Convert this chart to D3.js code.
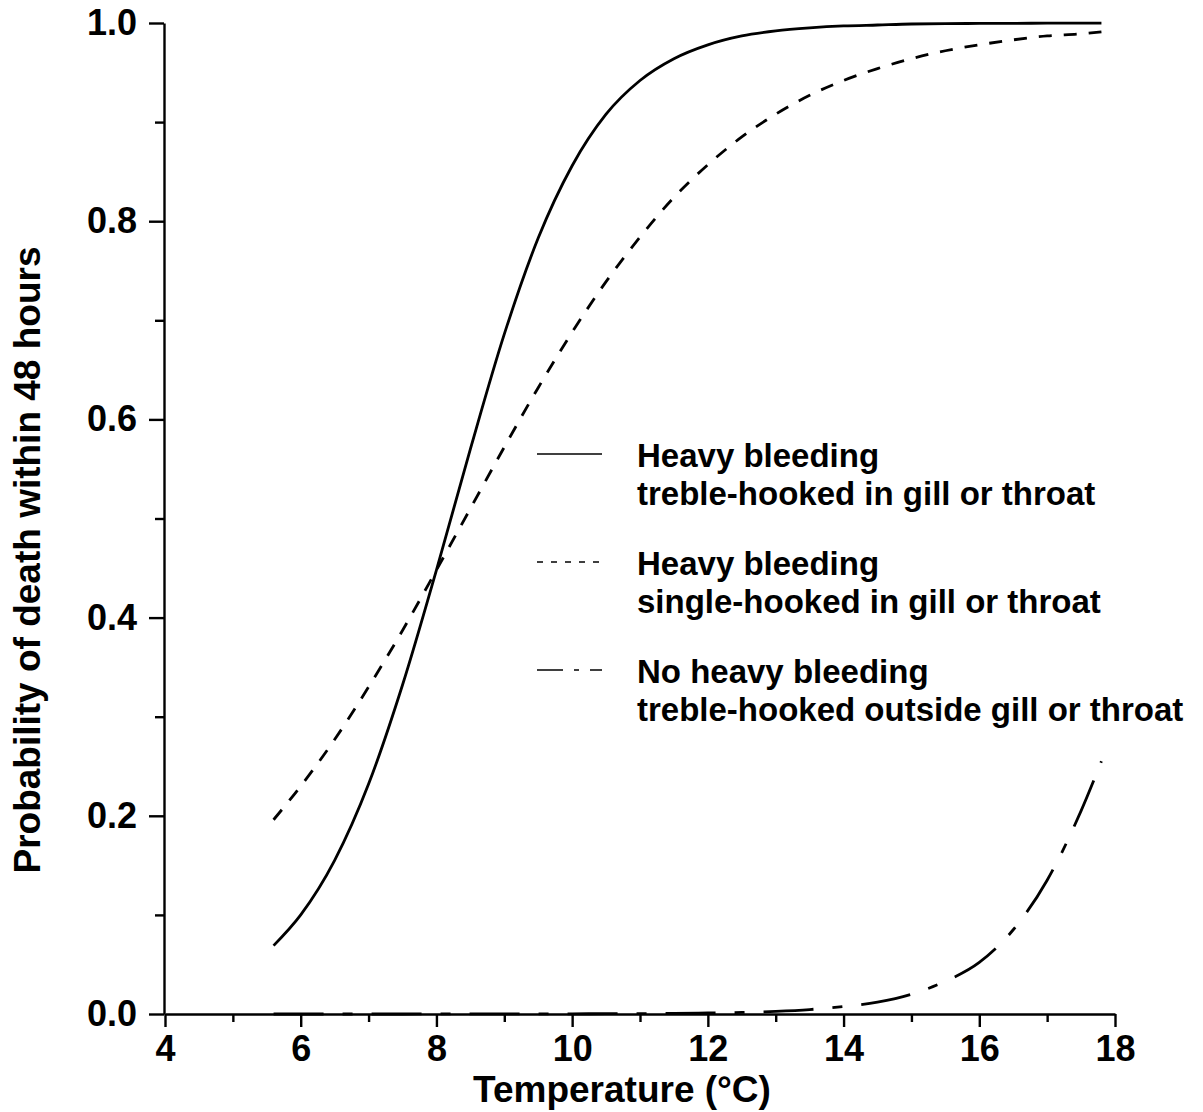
<!DOCTYPE html>
<html>
<head>
<meta charset="utf-8">
<script src="https://cdn.jsdelivr.net/npm/d3@7"></script>
<style>
  html, body { margin: 0; padding: 0; background: #fff; }
  svg text { font-family: "Liberation Sans", Arial, Helvetica, sans-serif; font-weight: bold; fill: #000; }
</style>
</head>
<body>
<svg id="chart" width="1203" height="1112"></svg>
<script>
// ---- Data ----
const temperature = [5.6, 6.0, 6.5, 7.0, 7.5, 8.0, 8.5, 9.0, 9.5, 10.0, 10.5, 11.0, 11.5, 12.0, 12.5, 13.0, 13.5, 14.0, 14.5, 15.0, 15.5, 16.0, 16.5, 17.0, 17.5, 17.8];
const trebleGillHeavy = [0.069, 0.100, 0.155, 0.232, 0.332, 0.448, 0.570, 0.686, 0.783, 0.856, 0.908, 0.942, 0.964, 0.978, 0.987, 0.992, 0.995, 0.997, 0.998, 0.999, 0.9993, 0.9996, 0.9997, 0.9998, 0.9999, 0.9999];
const singleGillHeavy = [0.196, 0.230, 0.277, 0.330, 0.387, 0.448, 0.510, 0.572, 0.632, 0.688, 0.739, 0.784, 0.824, 0.857, 0.885, 0.908, 0.927, 0.942, 0.954, 0.964, 0.972, 0.978, 0.983, 0.987, 0.989, 0.991];
const trebleOutsideNoBleed = [0.0, 0.0, 0.0, 0.0, 0.0, 0.0001, 0.0001, 0.0001, 0.0001, 0.0002, 0.0003, 0.0004, 0.0006, 0.0010, 0.0016, 0.0027, 0.0045, 0.0075, 0.0120, 0.0200, 0.0330, 0.0520, 0.0850, 0.1350, 0.2050, 0.2550];

const xTicks = [4, 6, 8, 10, 12, 14, 16, 18];
const xMinorTicks = [5, 7, 9, 11, 13, 15, 17];
const yTicks = [0.0, 0.2, 0.4, 0.6, 0.8, 1.0];
const yMinorTicks = [0.1, 0.3, 0.5, 0.7, 0.9];

const xTitle = "Temperature (\u00B0C)";
const yTitle = "Probability of death within 48 hours";
const legendLabels = [
  ["Heavy bleeding", "treble-hooked in gill or throat"],
  ["Heavy bleeding", "single-hooked in gill or throat"],
  ["No heavy bleeding", "treble-hooked outside gill or throat"]
];

// ---- Styles ----
const seriesStyles = [
  { dash: null, legendDash: null },
  { dash: "13,12", legendDash: "6,8" },
  { dash: "50,19,10,19", legendDash: "26,11,5,11" }
];

const svg = d3.select("#chart");
const x = d3.scaleLinear().domain([4, 18]).range([165, 1115]);
const y = d3.scaleLinear().domain([0, 1]).range([1014, 23]);

const axisStroke = 2.4;

// X axis
const gx = svg.append("g").attr("transform", `translate(0,${y(0)})`);
gx.call(d3.axisBottom(x).tickValues(xTicks).tickSize(13).tickSizeOuter(0).tickPadding(8).tickFormat(d3.format("d")));
gx.append("g").call(d3.axisBottom(x).tickValues(xMinorTicks).tickSize(8).tickSizeOuter(0).tickFormat(""))
  .select(".domain").remove();
gx.selectAll("text").attr("font-size", 36).attr("dy", "0.72em");

// Y axis
const gy = svg.append("g").attr("transform", `translate(${x(4) - 1},0)`);
gy.call(d3.axisLeft(y).tickValues(yTicks).tickSize(15).tickSizeOuter(0).tickPadding(12).tickFormat(d3.format(".1f")));
gy.append("g").call(d3.axisLeft(y).tickValues(yMinorTicks).tickSize(9).tickSizeOuter(0).tickFormat(""))
  .select(".domain").remove();
gy.selectAll("text").attr("font-size", 36);

svg.selectAll(".domain, .tick line").attr("stroke", "#000").attr("stroke-width", axisStroke);
svg.selectAll(".tick text").style("font-family", "'Liberation Sans', Arial, sans-serif").style("font-weight", "bold");

// Axis titles
svg.append("text").attr("x", 622).attr("y", 1102).attr("text-anchor", "middle").attr("font-size", 37).text(xTitle);
svg.append("text").attr("transform", "translate(40,560) rotate(-90)").attr("text-anchor", "middle").attr("font-size", 37).text(yTitle);

// Curves
const seriesValues = [trebleGillHeavy, singleGillHeavy, trebleOutsideNoBleed];
const line = d3.line().x(d => x(d[0])).y(d => y(d[1])).curve(d3.curveMonotoneX);
seriesValues.forEach((vals, i) => {
  const pts = temperature.map((t, j) => [t, vals[j]]);
  const p = svg.append("path").datum(pts).attr("d", line)
    .attr("fill", "none").attr("stroke", "#000").attr("stroke-width", 2.8)
    .attr("stroke-linecap", "butt");
  if (seriesStyles[i].dash) p.attr("stroke-dasharray", seriesStyles[i].dash);
});

// Legend
const legendY = [454, 562, 670];
legendLabels.forEach((lab, i) => {
  const ly = legendY[i];
  const l = svg.append("line").attr("x1", 537).attr("x2", 602).attr("y1", ly).attr("y2", ly)
    .attr("stroke", "#000").attr("stroke-width", 1.6);
  if (seriesStyles[i].legendDash) l.attr("stroke-dasharray", seriesStyles[i].legendDash);
  svg.append("text").attr("x", 637).attr("y", ly + 13).attr("font-size", 33).text(lab[0]);
  svg.append("text").attr("x", 637).attr("y", ly + 51).attr("font-size", 33).text(lab[1]);
});
</script>
</body>
</html>
